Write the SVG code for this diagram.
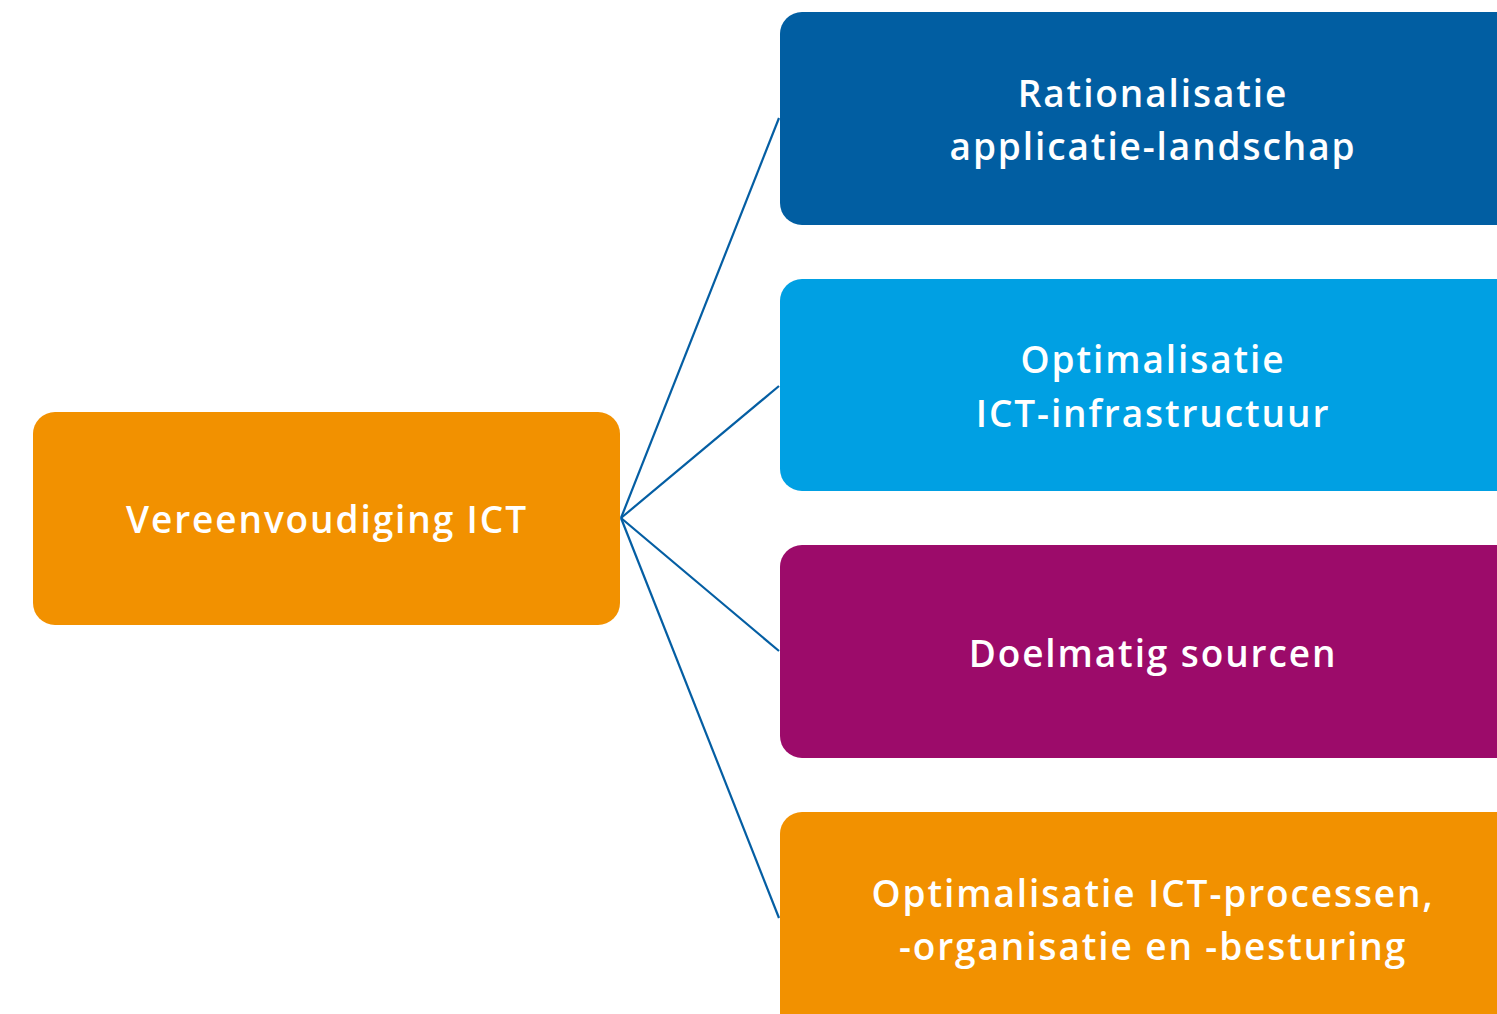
<svg xmlns="http://www.w3.org/2000/svg" width="1497" height="1014" viewBox="0 0 1497 1014">
<style>
.t{font-family:"Open Sans","Liberation Sans",sans-serif;font-size:37px;font-weight:600;fill:#fff;text-anchor:middle;letter-spacing:1.9px}
.c{stroke:#045EA3;stroke-width:2.2;fill:none}
</style>
<rect width="1497" height="1014" fill="#fff"/>
<g id="connectors">
<line class="c" x1="621" y1="518" x2="779" y2="118"/>
<line class="c" x1="621" y1="518" x2="779" y2="386"/>
<line class="c" x1="621" y1="518" x2="779" y2="651"/>
<line class="c" x1="621" y1="518" x2="779" y2="918"/>
</g>
<g id="root">
<rect x="33" y="412" width="587" height="213" rx="22" fill="#F29100"/>
<text class="t" x="327" y="533">Vereenvoudiging ICT</text>
</g>
<g id="n1">
<rect x="780" y="12" width="760" height="213" rx="22" fill="#015EA2"/>
<text class="t" x="1153" y="107">Rationalisatie</text>
<text class="t" x="1153" y="160">applicatie-landschap</text>
</g>
<g id="n2">
<rect x="780" y="279" width="760" height="212" rx="22" fill="#00A0E3"/>
<text class="t" x="1153" y="373">Optimalisatie</text>
<text class="t" x="1153" y="427">ICT-infrastructuur</text>
</g>
<g id="n3">
<rect x="780" y="545" width="760" height="213" rx="22" fill="#9C0B6A"/>
<text class="t" x="1153" y="667">Doelmatig sourcen</text>
</g>
<g id="n4">
<rect x="780" y="812" width="760" height="240" rx="22" fill="#F29100"/>
<text class="t" x="1153" y="907">Optimalisatie ICT-processen,</text>
<text class="t" x="1153" y="960">-organisatie en -besturing</text>
</g>
</svg>
